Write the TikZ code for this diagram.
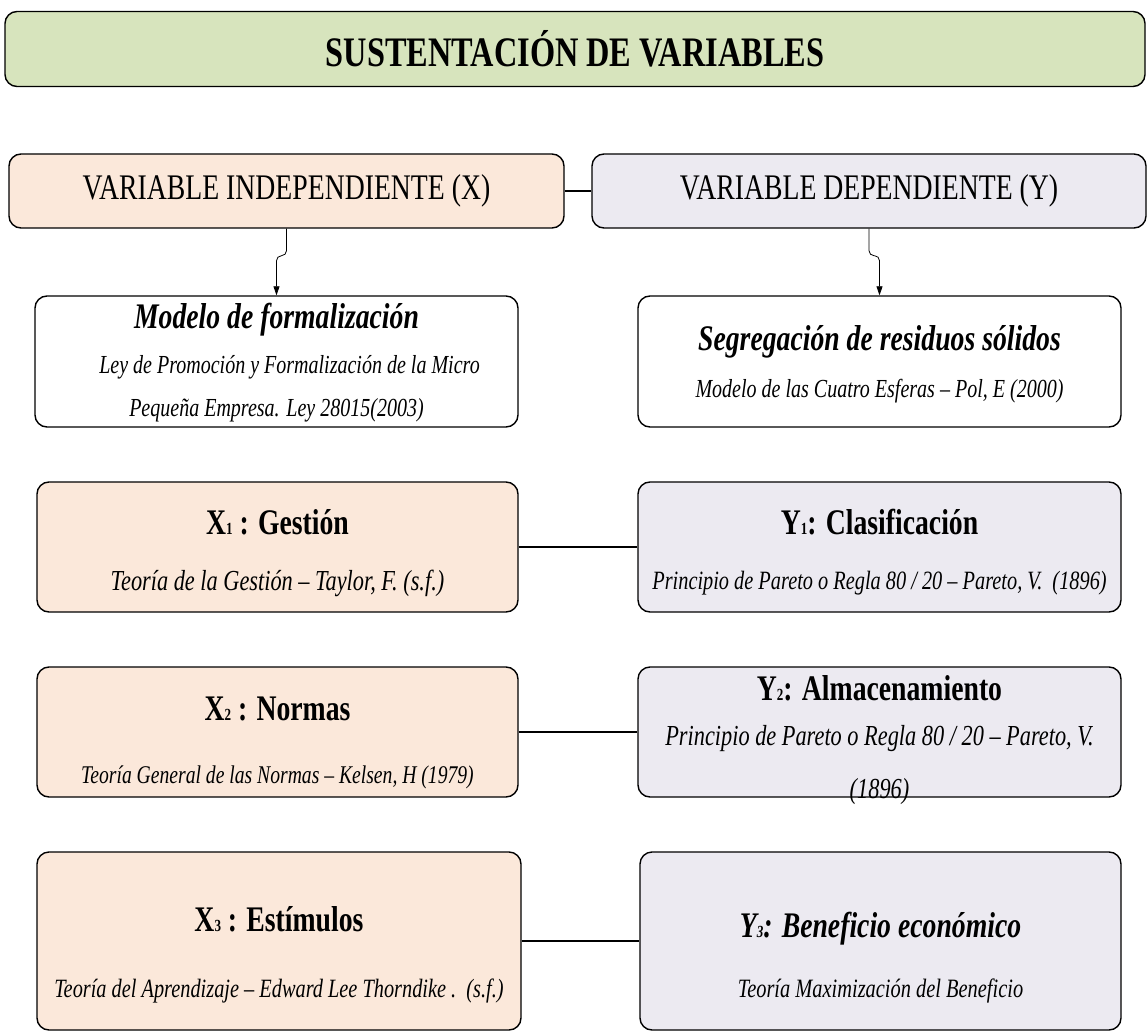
\documentclass[tikz,border=0pt]{standalone}
\usepackage{fontspec}
\setmainfont{Liberation Serif}[FakeStretch=0.77]
\usetikzlibrary{arrows.meta}

\definecolor{verdeT}{HTML}{D7E4BD}
\definecolor{durazno}{HTML}{FBE8DA}
\definecolor{lila}{HTML}{ECEAF1}

\newcommand{\fs}[1]{\fontsize{#1}{#1}\selectfont}
\newcommand{\subd}[1]{{\fontsize{17}{17}\selectfont #1}}

\tikzset{
    caja/.style={draw, line width=1.4pt, rounded corners=12pt, inner sep=0pt},
    titulo/.style={caja, fill=verdeT, minimum width=1140pt, minimum height=75pt},
    varx/.style={caja, fill=durazno},
    vary/.style={caja, fill=lila},
    teoria/.style={caja, fill=white},
    txt/.style={inner sep=0pt, align=center},
    enlace/.style={line width=1.4pt},
    flecha/.style={-{Triangle[length=9pt,width=6pt]}, line width=0.8pt, rounded corners=5pt}
}

\begin{document}
\begin{tikzpicture}[x=1pt, y=-1pt]
    \useasboundingbox (0,0) rectangle (1148,1032);

    % TITULO
    \node[titulo] (tit) at (575,49) {\fs{42}\bfseries SUSTENTACIÓN DE VARIABLES};

    % VARIABLES
    \node[varx, minimum width=555pt, minimum height=74pt] (vi) at (286.5,191) {\fs{36}VARIABLE INDEPENDIENTE (X)};
    \node[vary, minimum width=554pt, minimum height=74pt] (vd) at (869,191) {\fs{36}VARIABLE DEPENDIENTE (Y)};

    % TEORIAS
    \node[teoria, minimum width=483pt, minimum height=131pt] (mf) at (276.5,361.5) {};
    \node[txt] (mft) at (276.5,320) {\fs{36}\bfseries\itshape Modelo de formalización};
    \node[txt, font=\fontsize{26}{43}\selectfont\itshape] (mfs) at (276.5,389) {\hspace*{26pt}Ley de Promoción y Formalización de la Micro\\Pequeña Empresa. Ley 28015(2003)};

    \node[teoria, minimum width=483pt, minimum height=131pt] (sr) at (879.5,361.5) {};
    \node[txt] (srt) at (879.5,342) {\fs{36}\bfseries\itshape Segregación de residuos sólidos};
    \node[txt] (srs) at (879.5,391) {\fs{26}\itshape Modelo de las Cuatro Esferas – Pol, E (2000)};

    % DIMENSIONES X
    \node[varx, minimum width=481pt, minimum height=130pt] (x1) at (277.5,547) {};
    \node[txt] (x1t) at (277.5,522) {\fs{36}\bfseries X\subd{1} : Gestión};
    \node[txt] (x1s) at (277.5,583) {\fs{29}\itshape Teoría de la Gestión – Taylor, F. (s.f.)};

    \node[varx, minimum width=481pt, minimum height=130pt] (x2) at (277.5,732) {};
    \node[txt] (x2t) at (277.5,709) {\fs{36}\bfseries X\subd{2} : Normas};
    \node[txt] (x2s) at (277.5,777) {\fs{25.5}\itshape Teoría General de las Normas – Kelsen, H (1979)};

    \node[varx, minimum width=484pt, minimum height=178pt] (x3) at (279,941) {};
    \node[txt] (x3t) at (279,919) {\fs{36}\bfseries X\subd{3} : Estímulos};
    \node[txt] (x3s) at (279,991) {\fs{26.4}\itshape Teoría del Aprendizaje – Edward Lee Thorndike .~~(s.f.)};

    % DIMENSIONES Y
    \node[vary, minimum width=483pt, minimum height=130pt] (y1) at (879.5,547) {};
    \node[txt] (y1t) at (879.5,522) {\fs{36}\bfseries Y\subd{1}: Clasificación};
    \node[txt] (y1s) at (879.5,583) {\fs{26.4}\itshape Principio de Pareto o Regla 80 / 20 – Pareto, V.~~(1896)};

    \node[vary, minimum width=483pt, minimum height=130pt] (y2) at (879.5,732) {};
    \node[txt] (y2t) at (879.5,688) {\fs{36}\bfseries Y\subd{2}: Almacenamiento};
    \node[txt, font=\fontsize{29}{53}\selectfont\itshape] (y2s) at (879.5,765) {Principio de Pareto o Regla 80 / 20 – Pareto, V.\\(1896)};

    \node[vary, minimum width=481pt, minimum height=178pt] (y3) at (880.5,941) {};
    \node[txt] (y3t) at (880.5,929) {\fs{36}\bfseries\itshape Y\subd{3}: Beneficio económico};
    \node[txt] (y3s) at (880.5,991) {\fs{26.5}\itshape Teoría Maximización del Beneficio};

    % CONECTORES
    \draw[enlace] (vi) -- (vd);
    \draw[enlace] (x1) -- (y1);
    \draw[enlace] (x2) -- (y2);
    \draw[enlace] (x3) -- (y3);

    \draw[flecha] (vi.south) -- ++(0,27) -| (mf.north);
    \draw[flecha] (vd.south) -- ++(0,27) -| (sr.north);

\end{tikzpicture}
\end{document}
